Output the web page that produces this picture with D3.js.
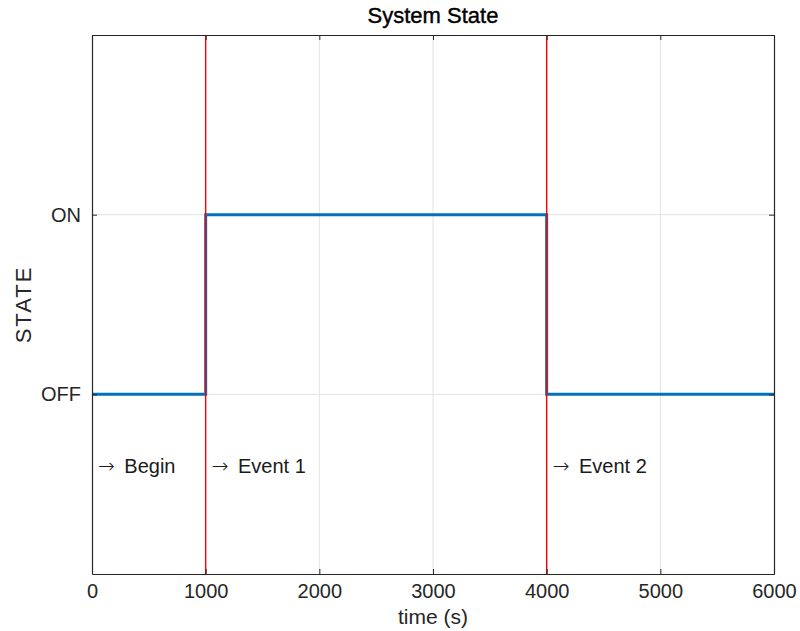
<!DOCTYPE html>
<html><head><meta charset="utf-8">
<script src="https://cdn.jsdelivr.net/npm/d3@7"></script>
<style>body{margin:0;background:#fff}svg{display:block}text{font-family:"Liberation Sans",Arial,sans-serif}</style>
</head><body>
<script>
// data
const times  = [0, 1000, 1000, 4000, 4000, 6000];
const states = [0, 0, 1, 1, 0, 0];
const eventTimes  = [1000, 4000];
const annotTimes  = [0, 1000, 4000];
const annotLabels = ["Begin", "Event 1", "Event 2"];
const annotY = -0.4;
const xTicks = [0, 1000, 2000, 3000, 4000, 5000, 6000];
const yTicks = [0, 1];
const yTickLabels = ["OFF", "ON"];

const W = 800, H = 631;
const m = {l: 92, r: 26, t: 35, b: 57};
const svg = d3.select("body").append("svg").attr("width", W).attr("height", H);
const x = d3.scaleLinear().domain([0, 6000]).range([m.l, W - m.r]);
const y = d3.scaleLinear().domain([-1, 2]).range([H - m.b, m.t]);
const axCol = "#262626";
const FONT = '"Liberation Sans",Arial,sans-serif';

// grid
svg.append("g").selectAll("line").data(xTicks.slice(1, -1)).join("line")
  .attr("x1", d => x(d)).attr("x2", d => x(d)).attr("y1", y(-1)).attr("y2", y(2))
  .attr("stroke", "#e3e3e3").attr("stroke-width", 1);
svg.append("g").selectAll("line").data(yTicks).join("line")
  .attr("x1", x(0)).attr("x2", x(6000)).attr("y1", d => y(d)).attr("y2", d => y(d))
  .attr("stroke", "#e3e3e3").attr("stroke-width", 1);

// step line
const pts = times.map((t, i) => [t, states[i]]);
svg.append("path").datum(pts)
  .attr("d", d3.line().x(d => x(d[0])).y(d => y(d[1])))
  .attr("fill", "none").attr("stroke", "#0072BD").attr("stroke-width", 3);

// event lines
svg.append("g").selectAll("line").data(eventTimes).join("line")
  .attr("x1", d => x(d)).attr("x2", d => x(d)).attr("y1", y(-1)).attr("y2", y(2))
  .attr("stroke", "#ff0000").attr("stroke-width", 1.4);

// annotations
const at = svg.append("g").selectAll("text").data(annotTimes).join("text")
  .attr("x", d => x(d) + 6).attr("y", y(annotY)).attr("dy", "0.35em")
  .attr("font-size", 20).attr("fill", "#1a1a1a");
at.append("tspan").style("font-family", '"DejaVu Sans",sans-serif').attr("font-size", 20).attr("font-weight", 300).text("\u2192");
at.append("tspan").attr("dx", 4).text((d, i) => " " + annotLabels[i]);

// axes
const xAxisB = d3.axisBottom(x).tickValues(xTicks).tickFormat(d3.format("d")).tickSizeInner(-5).tickSizeOuter(0).tickPadding(10);
const gx = svg.append("g").attr("transform", `translate(0,${y(-1)})`).call(xAxisB);
const xAxisT = d3.axisTop(x).tickValues(xTicks).tickSizeInner(-5).tickSizeOuter(0).tickFormat("");
const gxt = svg.append("g").attr("transform", `translate(0,${y(2)})`).call(xAxisT);
const yAxisL = d3.axisLeft(y).tickValues(yTicks).tickFormat((d, i) => yTickLabels[i]).tickSizeInner(-5).tickSizeOuter(0).tickPadding(11);
const gy = svg.append("g").attr("transform", `translate(${x(0)},0)`).call(yAxisL);
const yAxisR = d3.axisRight(y).tickValues(yTicks).tickFormat("").tickSizeInner(-5).tickSizeOuter(0);
const gyr = svg.append("g").attr("transform", `translate(${x(6000)},0)`).call(yAxisR);
[gx, gxt, gy, gyr].forEach(g => {
  g.select(".domain").attr("stroke", axCol).attr("stroke-width", 1.2);
  g.selectAll(".tick line").attr("stroke", axCol);
  g.selectAll("text").attr("font-size", 20).attr("fill", "#262626").style("font-family", FONT);
});

// labels
svg.append("text").attr("x", (x(0) + x(6000)) / 2).attr("y", 624)
  .attr("text-anchor", "middle").attr("font-size", 21).attr("fill", "#262626").text("time (s)");
svg.append("text").attr("transform", `translate(31,${(y(-1) + y(2)) / 2}) rotate(-90)`)
  .attr("text-anchor", "middle").attr("font-size", 22).attr("letter-spacing", 2).attr("fill", "#262626").text("STATE");
svg.append("text").attr("x", (x(0) + x(6000)) / 2).attr("y", 23)
  .attr("text-anchor", "middle").attr("font-size", 22)
  .attr("stroke", "#000").attr("stroke-width", 0.4).attr("fill", "#000").text("System State");
</script>
</body></html>
